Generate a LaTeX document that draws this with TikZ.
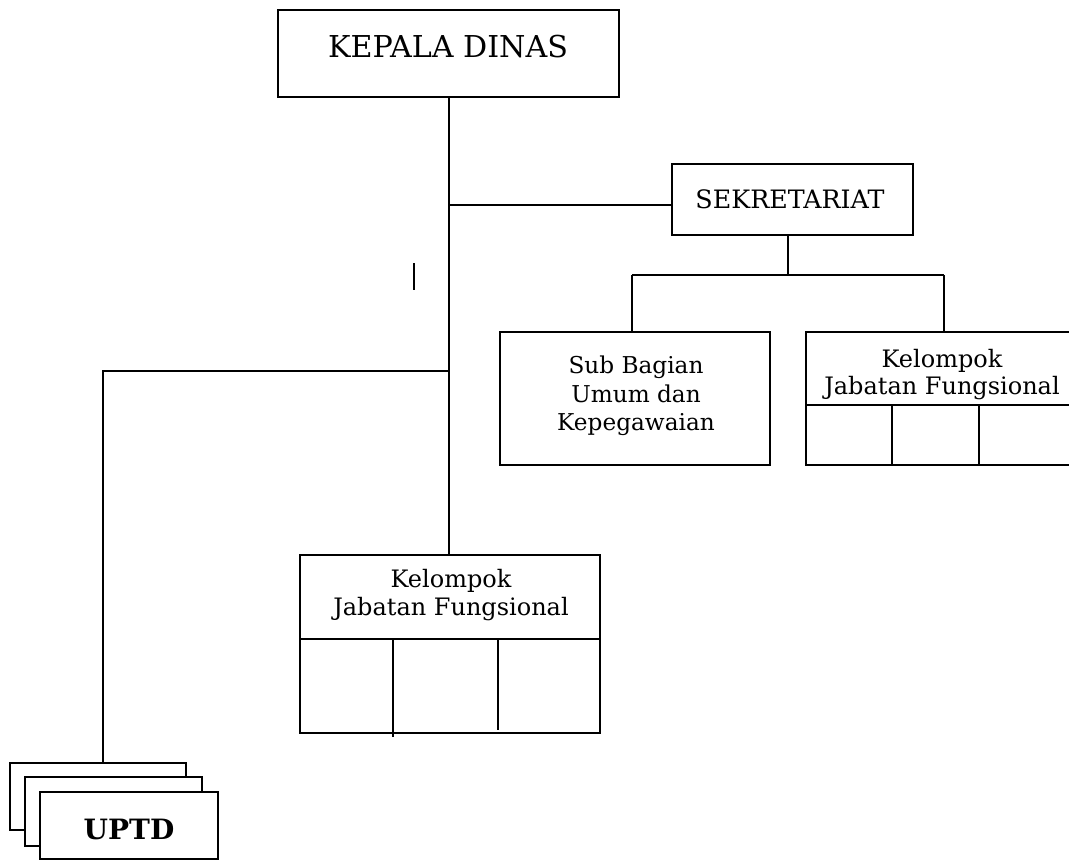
\documentclass[tikz,border=0pt]{standalone}
\usepackage{fontspec}
\setmainfont{DejaVu Serif}
\usetikzlibrary{fit}
\tikzset{
  box/.style={draw, line width=1.6pt, inner sep=0pt, fill=white},
  ln/.style={line width=1.6pt},
  big/.style={inner sep=0pt, anchor=base, font=\fontsize{22.6}{26}\selectfont},
  mid/.style={inner sep=0pt, anchor=base, font=\fontsize{19}{22}\selectfont},
  sml/.style={inner sep=0pt, anchor=base, font=\fontsize{18}{21}\selectfont},
  sub/.style={inner sep=0pt, anchor=base, font=\fontsize{17.4}{21}\selectfont},
  bld/.style={inner sep=0pt, anchor=base, font=\fontsize{21}{24}\selectfont\bfseries}
}
\begin{document}
\begin{tikzpicture}[x=0.75pt, y=-0.75pt]
\useasboundingbox (0,0) rectangle (1069,861);
\clip (0,0) rectangle (1069,861);

% head of office
\node[box, fit={(278,10) (619,97)}] (kadis) {};
\node[big] (kadist) at (448,57) {KEPALA DINAS};

% secretariat
\node[box, fit={(672,164) (913,235)}] (sek) {};
\node[mid] (sekt) at (790,208) {SEKRETARIAT};

% general affairs sub-division
\node[box, fit={(500,332) (770,465)}] (sub) {};
\node[sub] (sub1) at (636,373) {Sub Bagian};
\node[sub] (sub2) at (636,402) {Umum dan};
\node[sub] (sub3) at (636,430) {Kepegawaian};

% functional group under the secretariat
\node[box, fit={(806,332) (1078,465)}] (kjf1) {};
\node[sml] (kjf1a) at (942,367) {Kelompok};
\node[sml] (kjf1b) at (942,394) {Jabatan Fungsional};
\coordinate (kjf1d) at (806,405);
\draw[ln] (kjf1d) -- (kjf1d -| kjf1.east);
\coordinate (kjf1p) at (892,405);
\coordinate (kjf1q) at (979,405);
\draw[ln] (kjf1p) -- (kjf1p |- kjf1.south);
\draw[ln] (kjf1q) -- (kjf1q |- kjf1.south);

% functional group under the head
\node[box, fit={(300,555) (600,733)}] (kjf2) {};
\node[sml] (kjf2a) at (451,587) {Kelompok};
\node[sml] (kjf2b) at (451,615) {Jabatan Fungsional};
\coordinate (kjf2d) at (300,639);
\draw[ln] (kjf2d) -- (kjf2d -| kjf2.east);
\coordinate (kjf2p) at (393,639);
\coordinate (kjf2pe) at (393,737);
\coordinate (kjf2q) at (498,639);
\coordinate (kjf2qe) at (498,730);
\draw[ln] (kjf2p) -- (kjf2pe);
\draw[ln] (kjf2q) -- (kjf2qe);

% technical units (stacked)
\node[box, fit={(10,763) (186,830)}] (up1) {};
\node[box, fit={(25,777) (202,846)}] (up2) {};
\node[box, fit={(40,792) (218,859)}] (up3) {};
\node[bld] (upt) at (129,839) {UPTD};

% connectors
\coordinate (trunk) at (449,97);
\coordinate (jsek) at (449,205);
\coordinate (jupt) at (449,371);
\coordinate (lupt) at (103,371);
\coordinate (sdrop) at (788,235);
\coordinate (sbar) at (788,275);
\coordinate (sbl) at (632,275);
\coordinate (sbr) at (944,275);

\draw[ln] (trunk) -- (trunk |- kjf2.north);
\draw[ln] (jsek) -- (jsek -| sek.west);
\draw[ln] (sdrop) -- (sbar);
\draw[ln] (sbl) -- (sbr);
\draw[ln] (sbl) -- (sbl |- sub.north);
\draw[ln] (sbr) -- (sbr |- kjf1.north);
\draw[ln] (jupt) -- (lupt) -- (lupt |- up1.north);

% short stray tick
\coordinate (tk1) at (414,263);
\coordinate (tk2) at (414,290);
\draw[ln] (tk1) -- (tk2);
\end{tikzpicture}
\end{document}
